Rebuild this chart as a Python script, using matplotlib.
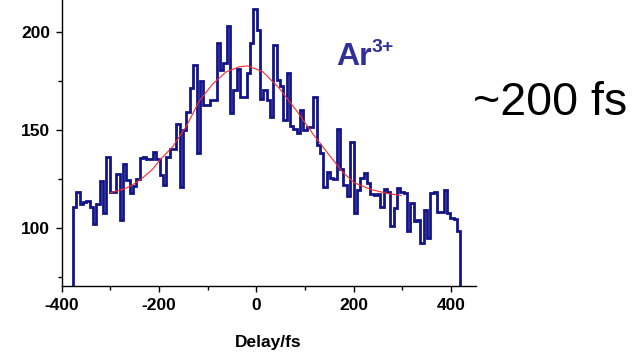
import numpy as np
import matplotlib
matplotlib.use("Agg")
import matplotlib.pyplot as plt
from matplotlib.ticker import MultipleLocator

plt.rcParams['font.family'] = ['Liberation Sans', 'DejaVu Sans']
plt.rcParams['axes.unicode_minus'] = False

# -------------------------
# Data
# -------------------------
# histogram: 116 bins from -377 fs to 419 fs
bin_start = -377.0
bin_stop = 419.0
counts = [
    110.7, 118.1, 112.1, 113.0, 113.8, 110.7, 101.9, 112.1, 123.9, 107.4,
    136.0, 118.1, 118.1, 127.3, 103.9, 132.4, 124.4, 118.0, 121.5, 125.0,
    135.5, 136.0, 135.0, 135.0, 139.0, 135.0, 127.0, 121.9, 136.0, 140.3,
    140.3, 153.2, 121.0, 150.0, 159.0, 171.5, 183.0, 138.0, 175.3, 163.0,
    163.0, 165.5, 165.5, 194.4, 180.5, 184.4, 203.0, 158.7, 170.5, 181.0,
    167.0, 167.0, 179.3, 194.6, 211.7, 201.2, 165.7, 170.5, 165.5, 156.8,
    193.5, 175.6, 172.5, 155.2, 179.0, 152.0, 150.5, 148.3, 160.2, 150.0,
    151.7, 151.7, 166.8, 142.3, 138.0, 121.0, 128.7, 125.5, 125.0, 150.3,
    130.0, 121.9, 116.0, 144.0, 107.4, 119.5, 125.3, 128.2, 122.8, 117.5,
    117.0, 117.5, 110.5, 119.8, 118.4, 101.0, 110.2, 120.5, 118.4, 118.0,
    98.2, 112.5, 103.5, 103.9, 92.0, 109.1, 95.0, 117.9, 118.2, 108.0,
    108.0, 119.1, 107.5, 104.8, 104.3, 98.2,
]

# fitted curve (red), read point by point
fit_x = [-299, -270, -254, -234, -213, -199, -172, -145, -117, -90, -62, -35,
         -18, 13, 47, 82, 116, 150, 177, 201, 236, 270, 297]
fit_y = [118.0, 120.0, 122.0, 125.5, 130.0, 134.5, 141.5, 151.5, 165.0, 173.5,
         179.8, 182.4, 182.8, 179.8, 171.3, 160.0, 148.0, 137.0, 128.5, 123.0,
         119.5, 117.5, 116.5]

x_ticks = [-400, -200, 0, 200, 400]
y_ticks = [100, 150, 200]

# -------------------------
# Plot
# -------------------------
W, H = 638, 354
fig = plt.figure(figsize=(W / 100, H / 100), dpi=100)
ax = fig.add_axes([61.7 / W, 1 - 286 / H, (476 - 61.7) / W, 286 / H])

edges = np.linspace(bin_start, bin_stop, len(counts) + 1)
ax.stairs(counts, edges, baseline=0, color='#14148a', linewidth=2.0)
ax.plot(fit_x, fit_y, color='#ff2a2a', linewidth=0.8)

ax.set_xlim(-400, 451)
ax.set_ylim(70.2, 216.5)

for s in ['top', 'right']:
    ax.spines[s].set_visible(False)
for s in ['left', 'bottom']:
    ax.spines[s].set_linewidth(1.0)

ax.set_xticks(x_ticks)
ax.set_yticks(y_ticks)
ax.xaxis.set_minor_locator(MultipleLocator(100))
ax.yaxis.set_minor_locator(MultipleLocator(25))
ax.tick_params(which='major', direction='out', length=4.5, width=1.0, pad=4,
               labelsize=12.5)
ax.tick_params(which='minor', direction='out', length=2.6, width=1.0)
for lab in ax.get_xticklabels() + ax.get_yticklabels():
    lab.set_fontweight('bold')

fig.text(268 / W, 1 - 347 / H, 'Delay/fs', ha='center', va='baseline',
         fontsize=12.5, fontweight='bold')

# annotations
fig.text(336 / W, 1 - 65 / H, 'Ar', ha='left', va='baseline',
         fontsize=23, fontweight='bold', color='#30309a')
fig.text(372 / W, 1 - 51.7 / H, '3+', ha='left', va='baseline',
         fontsize=14, fontweight='bold', color='#30309a')
fig.text(473 / W, 1 - 115 / H, '~200 fs', ha='left', va='baseline',
         fontsize=33.5)

fig.savefig('out.png', dpi=100)
